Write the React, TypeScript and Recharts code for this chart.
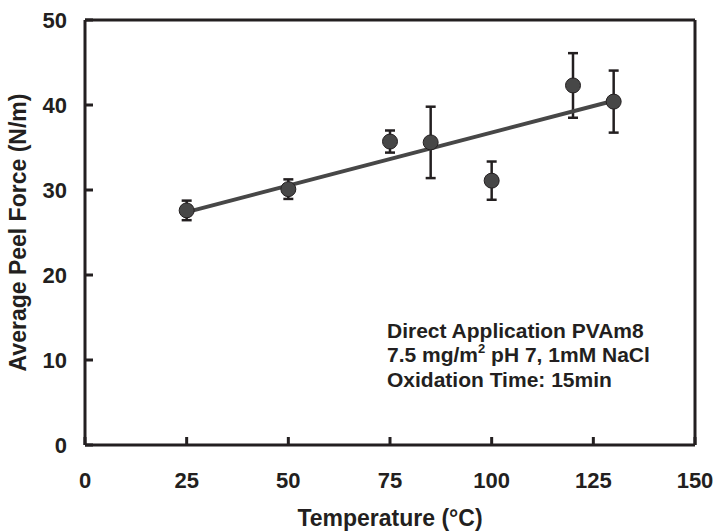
import React from "react"
import { ScatterChart, Scatter, XAxis, YAxis, ErrorBar, ReferenceLine } from "recharts"

const temperatures = [25, 50, 75, 85, 100, 120, 130]
const peelForce = [27.6, 30.1, 35.7, 35.6, 31.1, 42.3, 40.4]
const peelError = [1.15, 1.15, 1.3, 4.2, 2.25, 3.8, 3.65]

// linear fit drawn across the measured range
const fitX = [25, 130]
const fitY = [27.4, 40.5]

const xTicks = [0, 25, 50, 75, 100, 125, 150]
const yTicks = [0, 10, 20, 30, 40, 50]

const notes = ["Direct Application PVAm8", "Oxidation Time: 15min"]

const INK = "#231f20"
const FONT = "'Liberation Sans', Arial, Helvetica, sans-serif"

const points = temperatures.map((t, i) => ({ x: t, y: peelForce[i], err: peelError[i] }))
const fit = fitX.map((x, i) => ({ x, y: fitY[i] }))

function XTick({ x, y, payload }: any) {
  return (
    <g>
      <line x1={x} y1={y} x2={x} y2={y - 8} stroke={INK} strokeWidth={3} />
      <text x={x} y={y + 43} textAnchor="middle" fill={INK} fontSize={22} fontWeight="bold" fontFamily={FONT}>
        {payload.value}
      </text>
    </g>
  )
}

function YTick({ x, y, payload }: any) {
  return (
    <g>
      <line x1={x} y1={y} x2={x + 8} y2={y} stroke={INK} strokeWidth={3} />
      <text x={x - 18} y={y + 8} textAnchor="end" fill={INK} fontSize={22} fontWeight="bold" fontFamily={FONT}>
        {payload.value}
      </text>
    </g>
  )
}

function XTitle({ viewBox }: any) {
  if (!viewBox) return null
  return (
    <text x={viewBox.x + viewBox.width / 2} y={viewBox.y + 81} textAnchor="middle" fill={INK} fontSize={23} fontWeight="bold" fontFamily={FONT}>
      Temperature (°C)
    </text>
  )
}

function YTitle({ viewBox }: any) {
  if (!viewBox) return null
  const cx = viewBox.x + 18
  const cy = viewBox.y + viewBox.height / 2
  return (
    <text
      x={cx}
      y={cy}
      transform={`rotate(-90, ${cx}, ${cy})`}
      textAnchor="middle"
      dominantBaseline="central"
      fill={INK}
      fontSize={23}
      fontWeight="bold"
      fontFamily={FONT}
    >
      Average Peel Force (N/m)
    </text>
  )
}

function Dot({ cx, cy }: any) {
  return <circle cx={cx} cy={cy} r={7.5} fill="#474747" stroke={INK} strokeWidth={1} />
}

export default function App() {
  return (
    <div style={{ position: "absolute", left: 0, top: 0, width: 715, height: 531, background: "#fff" }}>
      <ScatterChart width={715} height={531} margin={{ top: 20, right: 20, bottom: 0, left: 0 }}>
        <XAxis
          type="number"
          dataKey="x"
          domain={[0, 150]}
          ticks={xTicks}
          height={86}
          tickSize={0}
          tickMargin={0}
          tickLine={false}
          tick={<XTick />}
          axisLine={{ stroke: INK, strokeWidth: 3 }}
          label={{ content: <XTitle /> }}
        />
        <YAxis
          type="number"
          dataKey="y"
          domain={[0, 50]}
          ticks={yTicks}
          width={85}
          tickSize={0}
          tickMargin={0}
          tickLine={false}
          tick={<YTick />}
          axisLine={{ stroke: INK, strokeWidth: 3 }}
          label={{ content: <YTitle /> }}
        />
        <ReferenceLine y={50} stroke={INK} strokeWidth={3} />
        <ReferenceLine x={150} stroke={INK} strokeWidth={3} />
        <Scatter
          data={fit}
          line={{ stroke: "#474747", strokeWidth: 4 }}
          shape={() => <g />}
          legendType="none"
          isAnimationActive={false}
        />
        <Scatter data={points} shape={<Dot />} isAnimationActive={false}>
          <ErrorBar dataKey="err" direction="y" width={5} stroke={INK} strokeWidth={2.5} isAnimationActive={false} />
        </Scatter>
      </ScatterChart>
      <svg width={715} height={531} style={{ position: "absolute", left: 0, top: 0, pointerEvents: "none" }}>
        <g fill={INK} fontSize={21} fontWeight="bold" fontFamily={FONT}>
          <text x={387} y={338}>{notes[0]}</text>
          <text x={387} y={362}>
            7.5 mg/m<tspan dy={-9} fontSize={13}>2</tspan>
            <tspan dy={9}> pH 7, 1mM NaCl</tspan>
          </text>
          <text x={387} y={387}>{notes[1]}</text>
        </g>
      </svg>
    </div>
  )
}
